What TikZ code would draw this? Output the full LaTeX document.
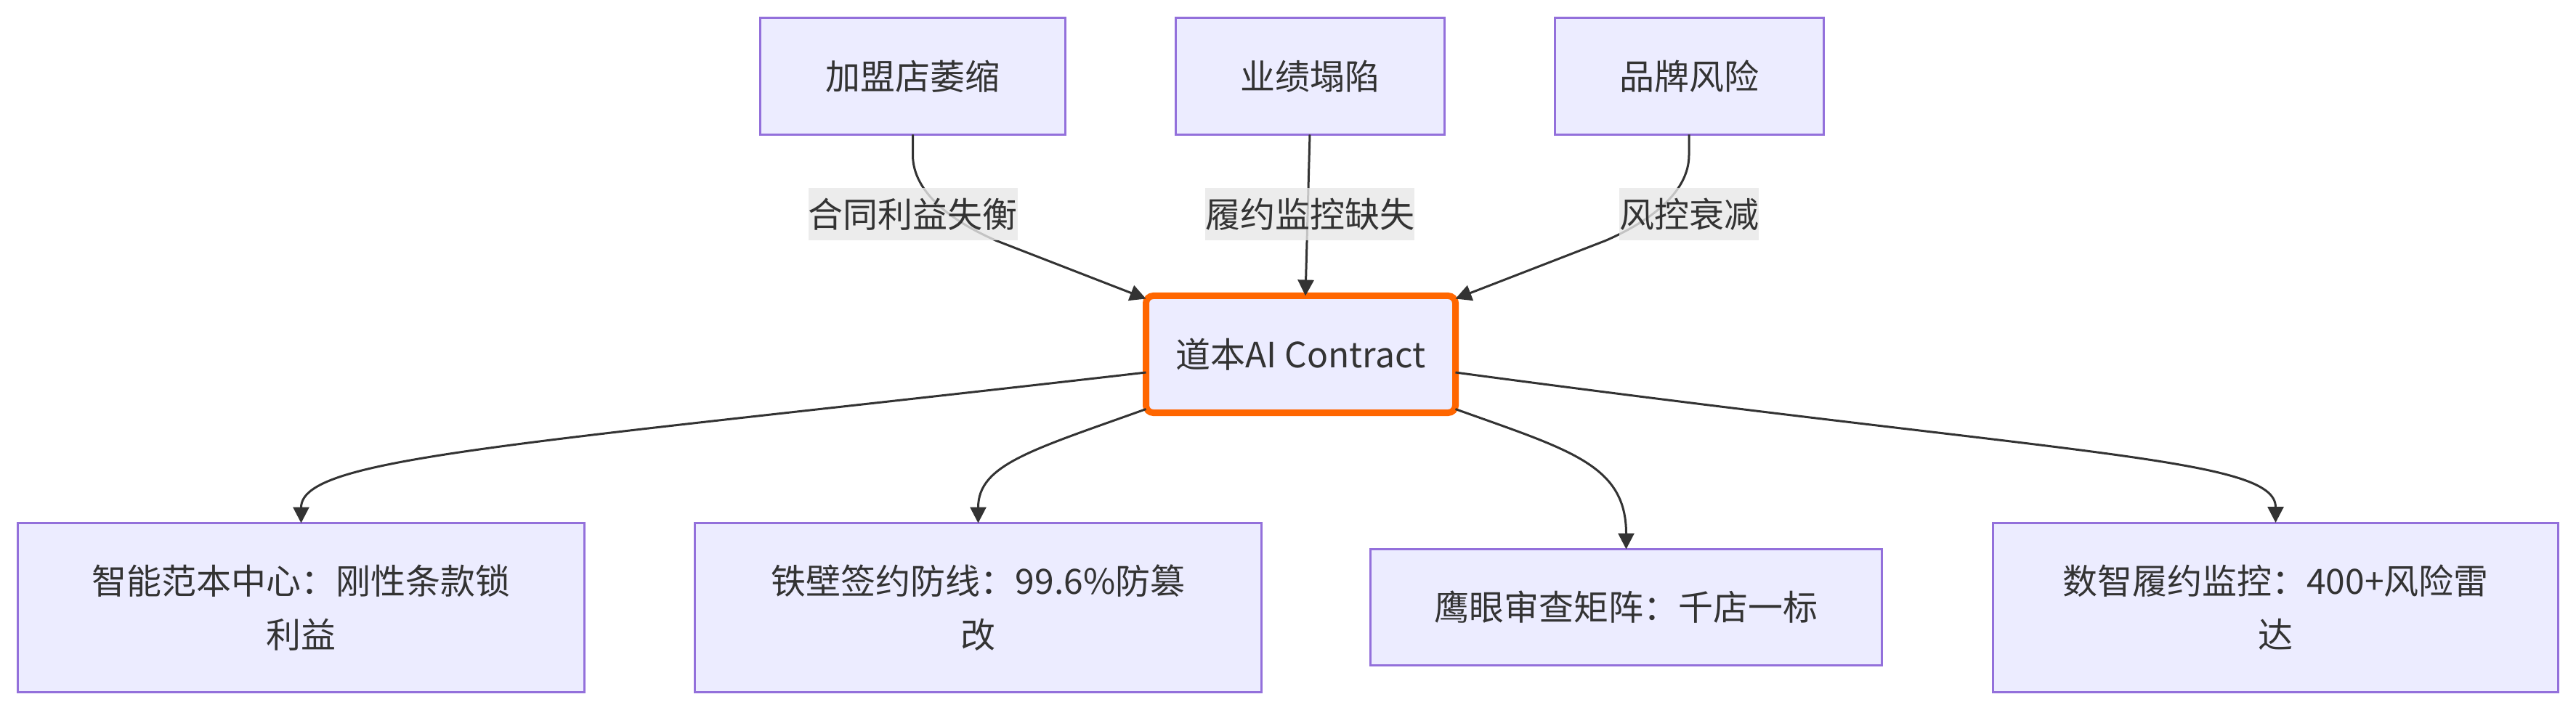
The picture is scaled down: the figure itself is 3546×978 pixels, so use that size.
\documentclass[tikz,border=0pt]{standalone}
\usepackage{fontspec}
\setmainfont{Noto Sans CJK SC}
\usetikzlibrary{arrows.meta,calc}
\definecolor{boxfill}{HTML}{ECECFF}
\definecolor{boxline}{HTML}{9370DB}
\definecolor{edgecol}{HTML}{333333}
\definecolor{txtcol}{HTML}{333333}
\definecolor{orangeline}{HTML}{FF6600}
\definecolor{lblbg}{HTML}{E8E8E8}
\begin{document}
\begin{tikzpicture}[x=0.5pt,y=-0.5pt,
  box/.style={draw=boxline,fill=boxfill,line width=1.5pt,inner sep=0pt,outer sep=0pt,
    text=txtcol,align=center,font=\fontsize{24}{37}\selectfont},
  hub/.style={draw=orangeline,fill=boxfill,line width=4.5pt,rounded corners=5pt,inner sep=0pt,outer sep=0pt,
    text=txtcol,align=center,font=\fontsize{24}{37}\selectfont},
  lbl/.style={fill=lblbg,fill opacity=0.8,text opacity=1,text=txtcol,inner xsep=0pt,inner ysep=0pt,
    minimum height=36pt,font=\fontsize{24}{37}\selectfont},
  edge/.style={draw=edgecol,line width=1.5pt,-{Triangle[length=11pt,width=11pt]}},
]
\useasboundingbox (0,0) rectangle (3546,978);
\fill[white] (0,0) rectangle (3546,978);

% top nodes
\node[box,minimum width=210pt,minimum height=80.5pt] (A) at (1256.5,105) {加盟店萎缩};
\node[box,minimum width=185pt,minimum height=80.5pt] (B) at (1803,105) {业绩塌陷};
\node[box,minimum width=185pt,minimum height=80.5pt] (C) at (2325,105) {品牌风险};

% hub
\node[hub,minimum width=213pt,minimum height=80.5pt] (M) at (1790.5,488) {道本AI Contract};

% bottom nodes
\node[box,minimum width=390pt,minimum height=116.5pt] (D) at (414.5,837) {智能范本中心：刚性条款锁\\利益};
\node[box,minimum width=390pt,minimum height=116.5pt] (E) at (1346.5,837) {铁壁签约防线：99.6\%防篡\\改};
\node[box,minimum width=352pt,minimum height=80pt] (F) at (2238.5,836.5) {鹰眼审查矩阵：千店一标};
\node[box,minimum width=389pt,minimum height=116.5pt] (G) at (3132.5,836.5) {数智履约监控：400+风险雷\\达};

% top edges
\draw[edge] (A.south) -- ($(A.south)+(0,28)$)
  .. controls ($(A.south)+(0,80)$) and ($(A.south)+(55,120)$) .. ($(A.south)+(115,146)$)
  -- ($(M.north west)+(0,4)$);
\draw[edge] (B.south) -- ($(M.north)+(6.5,0)$);
\draw[edge] (C.south) -- ($(C.south)+(0,28)$)
  .. controls ($(C.south)+(0,80)$) and ($(C.south)+(-55,120)$) .. ($(C.south)+(-115,146)$)
  -- ($(M.north east)+(0,4)$);

% edge labels
\node[lbl] (LA) at ($(A.south)+(0,110)$) {合同利益失衡};
\node[lbl] (LB) at ($(B.south)+(0,110)$) {履约监控缺失};
\node[lbl] (LC) at ($(C.south)+(0,110)$) {风控衰减};

% bottom edges
\draw[edge] ($(M.west)+(0,25)$) .. controls (700,614) and (414.5,630) .. (D.north);
\draw[edge] ($(M.south west)+(0,-5)$) .. controls (1420,620) and (1346.5,640) .. (E.north);
\draw[edge] ($(M.south east)+(0,-5)$) .. controls (2161,620) and (2238.5,640) .. (F.north);
\draw[edge] ($(M.east)+(0,25)$) .. controls (2858,628) and (3132.5,630) .. (G.north);
\end{tikzpicture}
\end{document}
